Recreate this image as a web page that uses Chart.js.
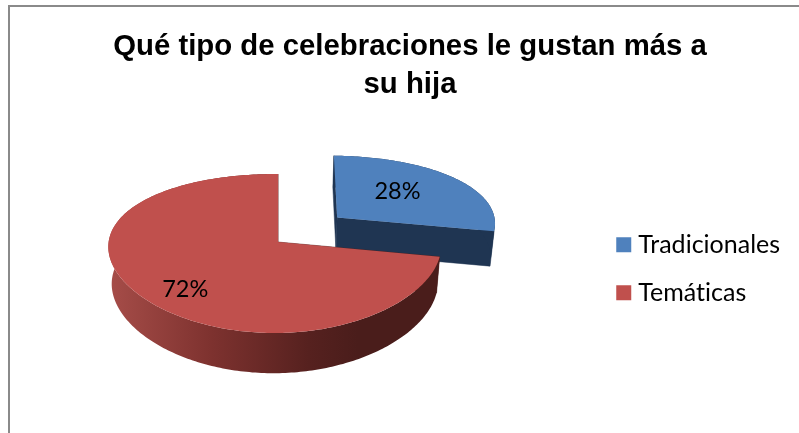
<!DOCTYPE html>
<html lang="es">
<head>
<meta charset="utf-8">
<title>Celebraciones</title>
<style>
html,body{margin:0;padding:0;background:#fff;overflow:hidden}
#wrap{position:absolute;left:0;top:0;width:799px;height:433px}
</style>
<script src="https://cdn.jsdelivr.net/npm/chart.js@4"></script>
</head>
<body>
<div id="wrap"><canvas id="chart" width="799" height="433"></canvas></div>
<script>
const categories = ['Tradicionales', 'Temáticas'];
const shares = [28, 72];
const titleLines = ['Qué tipo de celebraciones le gustan más a', 'su hija'];
const topColors = ['#4f81bd', '#c0504d'];

// Perspective view of a disc of radius 1; z runs from the top face (0) to the base (1).
const view = {cx: 278, cy: 242, rx: 166, ry: 77.8, depth: 37, k: 0.1447, kx: 0.06, m: 0.02, n: 0.02};
const explode = [{d: 0.475, lift: 1.095}, {d: 0, lift: 1}];
const labelPlace = [{r: 0.5, dx: 1, dy: -7}, {r: 0.72, dx: 3, dy: 9}];

function project(u, v, z) {
  const wx = 1 + view.kx * v + view.m * u + view.n * z;
  const wy = 1 + view.k * v + view.m * u + view.n * z;
  return [view.cx + view.rx * u / wx, view.cy + (-view.ry * v + view.depth * z) / wy];
}

function tracePolygon(ctx, pts) {
  ctx.beginPath();
  pts.forEach((p, i) => i ? ctx.lineTo(p[0], p[1]) : ctx.moveTo(p[0], p[1]));
  ctx.closePath();
}

function rimAngles(a0, a1) {
  const list = [];
  const steps = Math.ceil((a1 - a0) / (Math.PI / 180));
  for (let i = 0; i <= steps; i++) list.push(a0 + (a1 - a0) * i / steps);
  return list;
}

const wallFill = {
  blue: () => '#1f3552',
  red: ctx => {
    const g = ctx.createLinearGradient(112, 0, 440, 0);
    g.addColorStop(0, '#a54c48');
    g.addColorStop(0.3, '#7e322f');
    g.addColorStop(0.6, '#56211f');
    g.addColorStop(0.75, '#4a1d1b');
    g.addColorStop(1, '#4a1d1b');
    return g;
  }
};

const pie3d = {
  id: 'pie3d',
  beforeDraw(chart) {
    const ctx = chart.ctx;
    // a hair of tracking keeps "ti" as two separate glyphs in the legend
    ctx.letterSpacing = '0.01px';
    ctx.save();
    ctx.strokeStyle = '#8a8a8a';
    ctx.lineWidth = 2;
    ctx.strokeRect(9, 6, 900, 900);
    ctx.restore();
  },
  beforeDatasetsDraw(chart) {
    const ctx = chart.ctx;
    const arcs = chart.getDatasetMeta(0).data;
    const total = shares.reduce((a, b) => a + b, 0);
    ctx.save();
    arcs.forEach((arc, i) => {
      const mid = (arc.startAngle + arc.endAngle) / 2;
      const ou = Math.cos(mid) * explode[i].d;
      const ov = -Math.sin(mid) * explode[i].d * explode[i].lift;
      const angles = rimAngles(arc.startAngle, arc.endAngle);
      const at = (a, z) => project(ou + Math.cos(a), ov - Math.sin(a), z);
      const apex = z => project(ou, ov, z);
      const fill = i === 0 ? wallFill.blue() : wallFill.red(ctx);

      // side walls: cut faces, then the curved rim, with the top face over them
      ctx.fillStyle = fill;
      ctx.strokeStyle = fill;
      ctx.lineWidth = 0.5;
      [arc.startAngle, arc.endAngle].forEach(a => {
        tracePolygon(ctx, [apex(0), at(a, 0), at(a, 1), apex(1)]);
        ctx.fill();
        ctx.stroke();
      });
      tracePolygon(ctx, angles.map(a => at(a, 0))
        .concat(angles.slice().reverse().map(a => at(a, 1))));
      ctx.fill();

      tracePolygon(ctx, [apex(0)].concat(angles.map(a => at(a, 0))));
      ctx.fillStyle = topColors[i];
      ctx.fill();
    });
    arcs.forEach((arc, i) => {
      const mid = (arc.startAngle + arc.endAngle) / 2;
      const place = labelPlace[i];
      const r = explode[i].d + place.r;
      const p = project(Math.cos(mid) * r, -Math.sin(mid) * r, 0);
      ctx.fillStyle = '#000';
      ctx.font = '23.5px Lato';
      ctx.textAlign = 'center';
      ctx.textBaseline = 'middle';
      ctx.fillText(Math.round(shares[i] / total * 100) + '%', p[0] + place.dx, p[1] + place.dy);
    });
    ctx.restore();
    return false;
  }
};

new Chart(document.getElementById('chart'), {
  type: 'pie',
  data: {
    labels: categories,
    datasets: [{data: shares, backgroundColor: topColors, borderWidth: 0}]
  },
  plugins: [pie3d],
  options: {
    responsive: false,
    animation: false,
    layout: {padding: {left: 30, top: 20, right: 9, bottom: 0}},
    plugins: {
      tooltip: {enabled: false},
      title: {
        display: true,
        text: titleLines,
        color: '#000',
        font: {family: '"Liberation Sans"', size: 29.33, weight: 'bold', lineHeight: 1.3},
        padding: {top: 8, bottom: 0}
      },
      legend: {
        position: 'right',
        fullSize: false,
        labels: {
          font: {family: 'Lato', size: 25},
          color: '#000',
          boxWidth: 4,
          boxHeight: 4,
          padding: 23,
          generateLabels: () => categories.map((text, i) => ({
            text,
            fillStyle: topColors[i],
            strokeStyle: topColors[i],
            lineWidth: 11,
            index: i
          }))
        }
      }
    }
  }
});
</script>
</body>
</html>
